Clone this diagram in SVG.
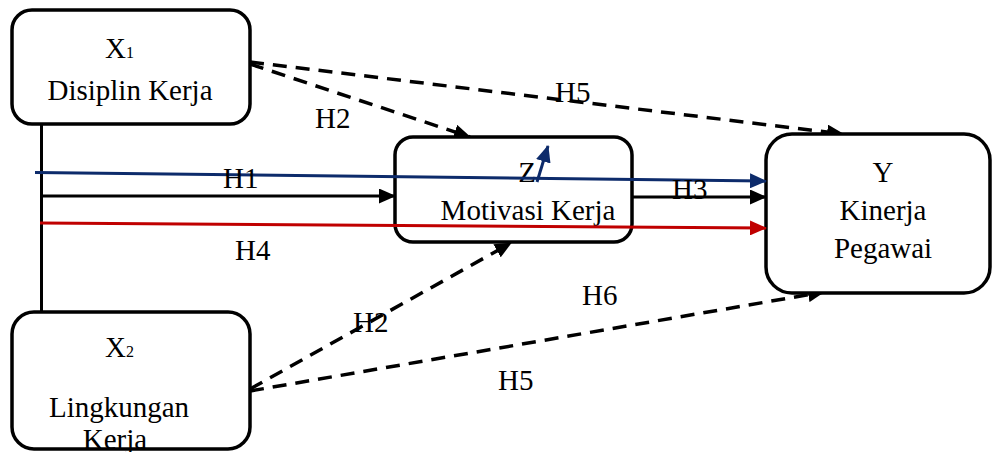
<svg xmlns="http://www.w3.org/2000/svg" width="993" height="452" viewBox="0 0 993 452">
<style>
.box{fill:#fff;stroke:#000;stroke-width:3.5}
.t{font-family:"Liberation Serif","Times New Roman",serif;font-size:29px;fill:#000}
.sub{font-size:16px}
.ln{fill:none;stroke-width:3}
.k{stroke:#000}
.b{stroke:#0d2b6b}
.r{stroke:#c00000}
.d{stroke-dasharray:14 9;stroke-width:3.5}
</style>
<defs>
<marker id="ak" markerUnits="userSpaceOnUse" markerWidth="17" markerHeight="15" refX="16" refY="7.5" orient="auto"><path d="M0,0 L17,7.5 L0,15 z" fill="#000"/></marker>
<marker id="ab" markerUnits="userSpaceOnUse" markerWidth="17" markerHeight="15" refX="16" refY="7.5" orient="auto"><path d="M0,0 L17,7.5 L0,15 z" fill="#0d2b6b"/></marker>
<marker id="ar" markerUnits="userSpaceOnUse" markerWidth="17" markerHeight="15" refX="16" refY="7.5" orient="auto"><path d="M0,0 L17,7.5 L0,15 z" fill="#c00000"/></marker>
</defs>
<g id="connectors">
<line class="ln k" x1="41.5" y1="124" x2="41.5" y2="313"/>
<path class="ln k d" d="M250,64 L470,137" marker-end="url(#ak)"/>
<path class="ln k d" d="M250,62 L843,134" marker-end="url(#ak)"/>
<path class="ln k d" d="M250,389 L511,243" marker-end="url(#ak)"/>
<path class="ln k d" d="M250,391 L824,292" marker-end="url(#ak)"/>
</g>
<g id="node-x1">
<rect class="box" x="12" y="10" width="238" height="114" rx="20"/>
<text class="t" x="105" y="58">X<tspan class="sub">1</tspan></text>
<text class="t" x="130" y="100" text-anchor="middle">Disiplin Kerja</text>
</g>
<g id="node-x2">
<rect class="box" x="12" y="312" width="238" height="137" rx="22"/>
<text class="t" x="105" y="357">X<tspan class="sub">2</tspan></text>
<text class="t" x="119" y="417" text-anchor="middle">Lingkungan</text>
<text class="t" x="115" y="449" text-anchor="middle">Kerja</text>
</g>
<g id="node-z">
<rect class="box" x="395" y="137" width="237" height="105" rx="18"/>
<text class="t" x="527" y="182" text-anchor="middle">Z</text>
<text class="t" x="528" y="220" text-anchor="middle">Motivasi Kerja</text>
</g>
<g id="node-y">
<rect class="box" x="766" y="134" width="224" height="159" rx="26"/>
<text class="t" x="883" y="182" text-anchor="middle">Y</text>
<text class="t" x="883" y="220" text-anchor="middle">Kinerja</text>
<text class="t" x="883" y="258" text-anchor="middle">Pegawai</text>
</g>
<g id="connectors-main">
<path class="ln k" d="M40,196 L395,196" marker-end="url(#ak)"/>
<path class="ln k" d="M632,197 L766,197" marker-end="url(#ak)"/>
<path class="ln b" d="M35,172.5 L766,181" marker-end="url(#ab)"/>
<path class="ln b" d="M537,182 L548,146" marker-end="url(#ab)"/>
<path class="ln r" d="M40,223 L766,228" marker-end="url(#ar)"/>
</g>
<g id="labels">
<text class="t" x="315" y="128">H2</text>
<text class="t" x="555" y="102">H5</text>
<text class="t" x="223" y="188">H1</text>
<text class="t" x="235" y="260">H4</text>
<text class="t" x="672" y="199">H3</text>
<text class="t" x="353" y="332">H2</text>
<text class="t" x="582" y="305">H6</text>
<text class="t" x="498" y="390">H5</text>
</g>
</svg>
